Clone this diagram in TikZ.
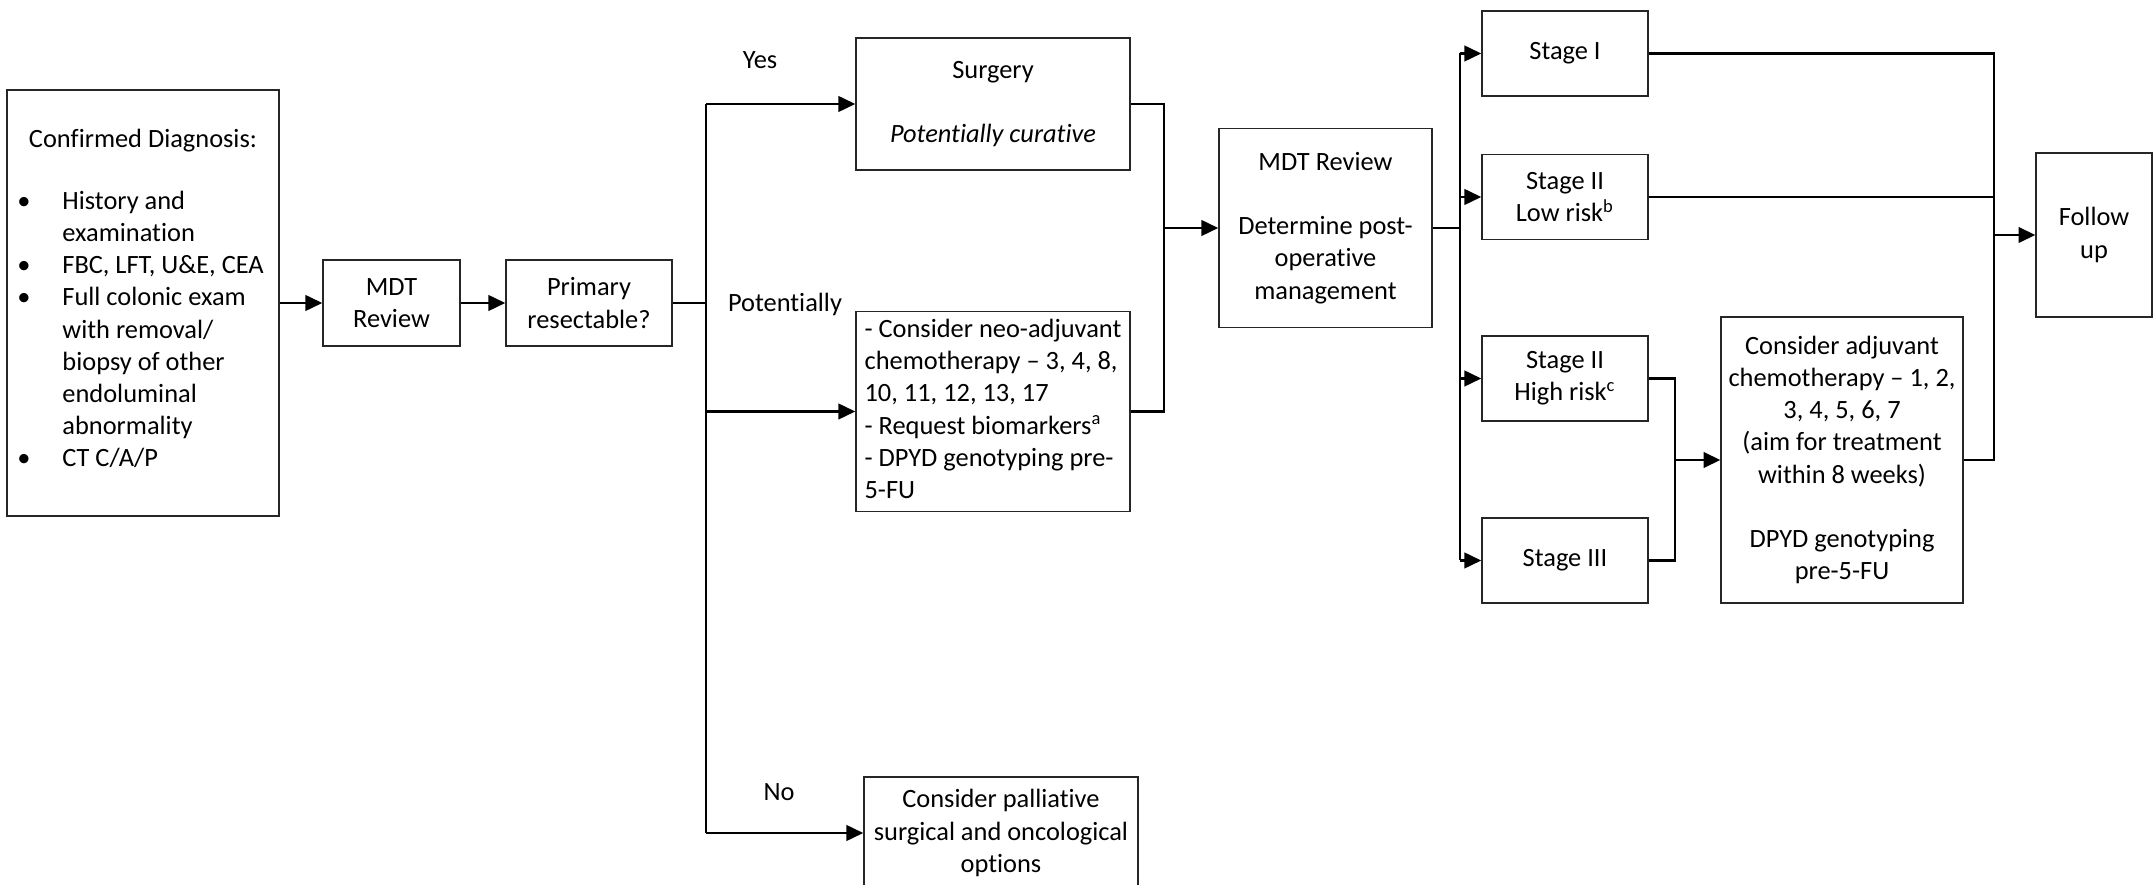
\documentclass[tikz,border=0pt]{standalone}
\usepackage{fontspec}
\setmainfont{Carlito}[Ligatures={TeX,NoCommon}]
\usetikzlibrary{arrows.meta}

\begin{document}
\begin{tikzpicture}[x=0.4167pt,y=-0.4167pt,
		box/.style={draw=black!85, line width=0.6pt, align=center, inner sep=1.5pt, font=\fontsize{11pt}{13.4pt}\selectfont},
		lbl/.style={font=\fontsize{11pt}{13.4pt}\selectfont},
		wire/.style={line width=0.9pt},
		arr/.style={line width=0.9pt, -{Triangle[length=7pt,width=6.5pt]}}]
			\useasboundingbox (0,0) rectangle (2155,885); % same window as the reference
			% diagnosis and first review
			\node[box, minimum width=113.3pt, minimum height=177.5pt] (diag) at (143,303) {Confirmed Diagnosis:\\[13.4pt]
				\begin{tabular}{@{}p{18.75pt}@{}l@{\hspace{2pt}}}
					\textbullet & History and\\ & examination\\
					\textbullet & FBC, LFT, U\&E, CEA\\
					\textbullet & Full colonic exam\\ & with removal/\\ & biopsy of other\\ & endoluminal\\ & abnormality\\
					\textbullet & CT C/A/P
				\end{tabular}};
			\node[box, minimum width=57.1pt, minimum height=35.8pt] (mdt) at (391.5,303) {MDT\\Review};
			\node[box, minimum width=69.2pt, minimum height=35.8pt] (prim) at (589,303) {Primary\\resectable?};
			% the three answers
			\node[box, minimum width=114.2pt, minimum height=55pt] (surg) at (993,104) {Surgery\\[13.4pt]\textit{Potentially curative}};
			\node[box, minimum width=114.2pt, minimum height=82.9pt] (neo) at (993,411.5) {%
				\begin{tabular}{@{}l@{}}- Consider neo-adjuvant\\chemotherapy – 3, 4, 8,\\10, 11, 12, 13, 17\\- Request biomarkers\textsuperscript{a}\\- DPYD genotyping pre-\\5-FU\end{tabular}};
			\node[box, minimum width=114.2pt, minimum height=46.7pt] (pall) at (1001,833) {Consider palliative\\surgical and oncological\\options};
			\node[lbl] (yes) at (760,60) {Yes};
			\node[lbl] (pot) at (785,304) {Potentially};
			\node[lbl] (no) at (779,792) {No};
			% post-operative review and stages
			\node[box, minimum width=88.8pt, minimum height=82.9pt] (mdtb) at (1325.5,228) {MDT Review\\[13.4pt]Determine post-\\operative\\management};
			\node[box, minimum width=69.2pt, minimum height=35.4pt] (st1) at (1565,53.5) {Stage I};
			\node[box, minimum width=69.2pt, minimum height=35.4pt] (st2l) at (1565,197) {Stage II\\Low risk\textsuperscript{b}};
			\node[box, minimum width=69.2pt, minimum height=35.4pt] (st2h) at (1565,378.5) {Stage II\\High risk\textsuperscript{c}};
			\node[box, minimum width=69.2pt, minimum height=35.4pt] (st3) at (1565,560.5) {Stage III};
			\node[box, minimum width=100.8pt, minimum height=119.2pt] (adj) at (1842,460) {Consider adjuvant\\chemotherapy – 1, 2,\\3, 4, 5, 6, 7\\(aim for treatment\\within 8 weeks)\\[13.4pt]DPYD genotyping\\pre-5-FU};
			\node[box, minimum width=48.3pt, minimum height=68.3pt] (fu) at (2094,235) {Follow\\up};
			% junctions
			\coordinate (sp) at (706,303);
			\coordinate (mg) at (1164,228);
			\coordinate (spb) at (1460,228);
			\coordinate (mgb) at (1675,460);
			\coordinate (mgc) at (1994,235);
			% connectors
			\draw[arr] (diag.east) -- (mdt.west);
			\draw[arr] (mdt.east) -- (prim.west);
			\draw[wire] (prim.east) -- (sp);
			\draw[wire] (sp |- surg.west) -- (sp |- pall.west);
			\draw[arr] (sp |- surg.west) -- (surg.west);
			\draw[arr] (sp |- neo.west) -- (neo.west);
			\draw[arr] (sp |- pall.west) -- (pall.west);
			\draw[wire] (surg.east) -| (mg) |- (neo.east);
			\draw[arr] (mg) -- (mdtb.west);
			\draw[wire] (mdtb.east) -- (spb);
			\draw[wire] (spb |- st1.west) -- (spb |- st3.west);
			\foreach \s in {st1,st2l,st2h,st3}
				\draw[arr] (spb |- \s.west) -- (\s.west);
			\draw[wire] (st2h.east) -| (mgb) |- (st3.east);
			\draw[arr] (mgb) -- (adj.west);
			\draw[wire] (st1.east) -| (mgc |- adj.east) -- (adj.east);
			\draw[wire] (st2l.east) -- (st2l.east -| mgc);
			\draw[arr] (mgc) -- (fu.west);
		\end{tikzpicture}
\end{document}
